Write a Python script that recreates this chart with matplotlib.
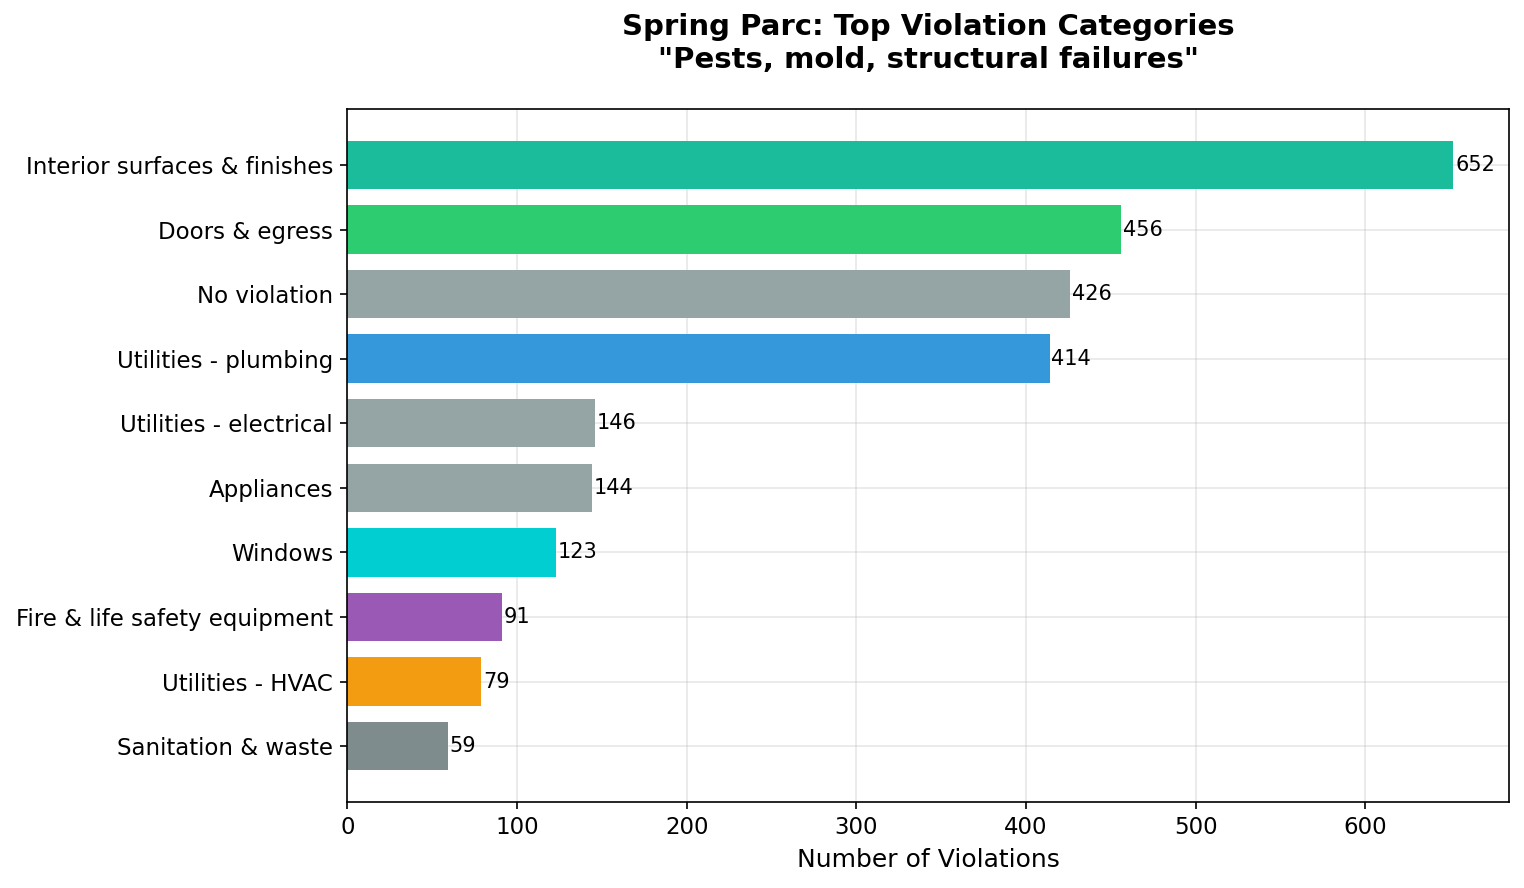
import matplotlib.pyplot as plt

categories = ["Interior surfaces & finishes", "Doors & egress", "No violation",
              "Utilities - plumbing", "Utilities - electrical", "Appliances",
              "Windows", "Fire & life safety equipment", "Utilities - HVAC",
              "Sanitation & waste"]
counts = [652, 456, 426, 414, 146, 144, 123, 91, 79, 59]
colors = ["#1abc9c", "#2ecc71", "#95a5a6", "#3498db", "#95a5a6", "#95a5a6",
          "#00ced1", "#9b59b6", "#f39c12", "#7f8c8d"]

fig, ax = plt.subplots(figsize=(10.16, 5.92), dpi=150)
fig.subplots_adjust(left=0.228, right=0.990, top=0.877, bottom=0.097)

ypos = list(range(len(categories)))
bars = ax.barh(ypos, counts, color=colors, height=0.75)
ax.set_yticks(ypos)
ax.set_yticklabels(categories, fontsize=11)
ax.invert_yaxis()
ax.tick_params(axis="x", labelsize=11)

for b, v in zip(bars, counts):
    ax.text(v + 1, b.get_y() + b.get_height() / 2, str(v),
            va="center", ha="left", fontsize=10)

ax.set_xlabel("Number of Violations", fontsize=12)
ax.set_title('Spring Parc: Top Violation Categories\n"Pests, mold, structural failures"',
             fontsize=14, fontweight="bold", pad=20)
ax.grid(True, alpha=0.3)
ax.set_axisbelow(True)

plt.savefig("out.png", dpi=150)
